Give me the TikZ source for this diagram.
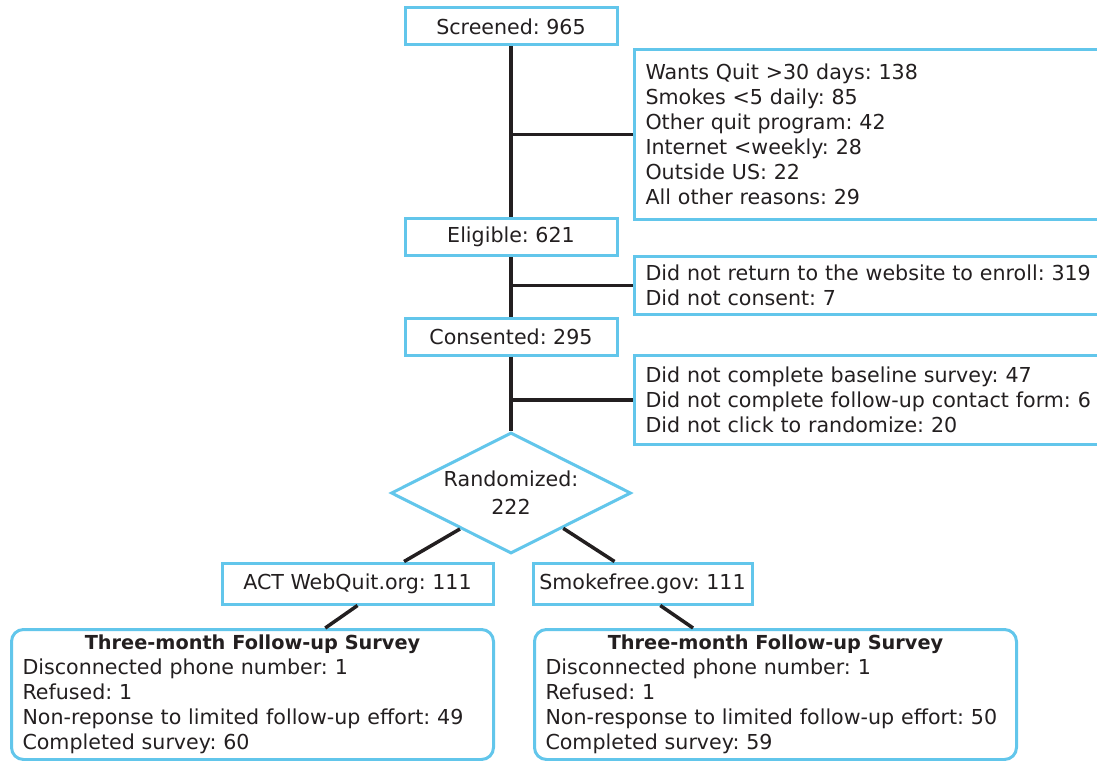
\documentclass[tikz,border=0pt]{standalone}
\usepackage{fontspec}
\setmainfont{DejaVu Sans}
\usetikzlibrary{shapes.geometric,calc}
\definecolor{boxblue}{RGB}{98,198,235}
\definecolor{ink}{RGB}{35,31,32}
\frenchspacing

\begin{document}
\begin{tikzpicture}[x=1pt,y=-1pt,font=\fontsize{20.6}{25}\selectfont,text=ink,
  stage/.style={draw=boxblue, line width=3pt, fill=white, minimum width=212pt, minimum height=37pt, inner sep=0pt},
  excl/.style={draw=boxblue, line width=3pt, fill=white, anchor=north west, text width=480pt, inner xsep=11pt, inner ysep=0pt, align=left},
  arm/.style={draw=boxblue, line width=3pt, fill=white, minimum height=41pt, inner sep=0pt},
  survey/.style={draw=boxblue, line width=3pt, fill=white, rounded corners=12pt, anchor=north west, text width=460pt, minimum height=130pt, inner xsep=11pt, inner ysep=0pt, align=left},
  link/.style={draw=ink, line width=3.5pt}]
\clip (0,0) rectangle (1097,760);

\node[stage] (screened) at (511,26.5) {Screened: 965};
\node[excl, minimum height=170pt] (excl1) at (633,48) {Wants Quit >30 days: 138\\Smokes <5 daily: 85\\Other quit program: 42\\Internet <weekly: 28\\Outside US: 22\\All other reasons: 29};
\node[stage] (eligible) at (511,237) {Eligible: 621};
\node[excl, minimum height=58pt] (excl2) at (633,255) {Did not return to the website to enroll: 319\\Did not consent: 7};
\node[stage] (consented) at (511,336.5) {Consented: 295};
\node[excl, minimum height=89pt] (excl3) at (633,354) {Did not complete baseline survey: 47\\Did not complete follow-up contact form: 6\\Did not click to randomize: 20};
\node[draw=boxblue, line width=3pt, fill=white, diamond, aspect=2, inner sep=0pt, minimum width=240pt, minimum height=121pt, align=center] (rand) at (511,493) {Randomized:\\[3pt]222};

\node[arm, minimum width=271pt] (act) at (357.5,583.5) {ACT WebQuit.org: 111};
\node[arm, minimum width=219pt] (smoke) at (642.5,583.5) {Smokefree.gov: 111};

\node[survey] (surveyA) at (10,628) {\makebox[\linewidth]{\fontsize{19.3}{25}\selectfont\bfseries Three-month Follow-up Survey}\\Disconnected phone number: 1\\Refused: 1\\Non-reponse to limited follow-up effort: 49\\Completed survey: 60};
\node[survey] (surveyB) at (533,628) {\makebox[\linewidth]{\fontsize{19.3}{25}\selectfont\bfseries Three-month Follow-up Survey}\\Disconnected phone number: 1\\Refused: 1\\Non-response to limited follow-up effort: 50\\Completed survey: 59};

\draw[link] (screened) -- (eligible);
\draw[link] (eligible) -- (consented);
\draw[link] (consented) -- (rand);
\draw[link] (excl1.west -| screened.south) -- (excl1.west);
\draw[link] (excl2.west -| eligible.south) -- (excl2.west);
\draw[link] (excl3.west -| consented.south) -- (excl3.west);

\draw[link] ($(rand.west)!0.58!(rand.south)$) -- ($(act.north west)!0.67!(act.north east)$);
\draw[link] ($(rand.east)!0.57!(rand.south)$) -- ($(smoke.north west)!0.374!(smoke.north east)$);
\draw[link] (act.south) -- ($(surveyA.north west)!0.65!(surveyA.north east)$);
\draw[link] ($(smoke.south west)!0.58!(smoke.south east)$) -- ($(surveyB.north west)!0.33!(surveyB.north east)$);
\end{tikzpicture}
\end{document}
